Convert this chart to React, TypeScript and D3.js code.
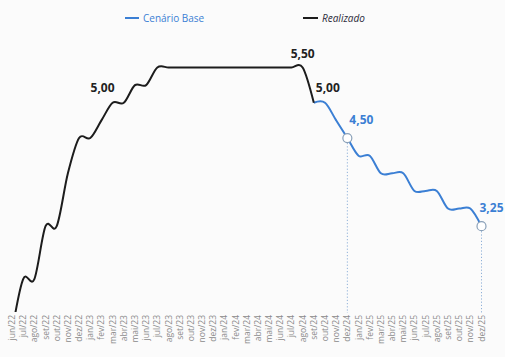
import React from "react";
import * as d3 from "d3";

const months = [
  "jun/22","jul/22","ago/22","set/22","out/22","nov/22","dez/22",
  "jan/23","fev/23","mar/23","abr/23","mai/23","jun/23","jul/23","ago/23","set/23","out/23","nov/23","dez/23",
  "jan/24","fev/24","mar/24","abr/24","mai/24","jun/24","jul/24","ago/24","set/24","out/24","nov/24","dez/24",
  "jan/25","fev/25","mar/25","abr/25","mai/25","jun/25","jul/25","ago/25","set/25","out/25","nov/25","dez/25",
];

// Realizado: jun/22 .. set/24
const realizado = [
  1.75, 2.5, 2.5, 3.25, 3.25, 4.0, 4.5,
  4.5, 4.75, 5.0, 5.0, 5.25, 5.25, 5.5, 5.5, 5.5, 5.5, 5.5, 5.5,
  5.5, 5.5, 5.5, 5.5, 5.5, 5.5, 5.5, 5.5, 5.0,
];

// Cenário Base: set/24 .. dez/25
const cenarioStart = "set/24";
const cenario = [5.0, 5.0, 4.75, 4.5, 4.25, 4.25, 4.0, 4.0, 4.0, 3.75, 3.75, 3.75, 3.5, 3.5, 3.5, 3.25];

const realizadoLabels = [
  { month: "mar/23", text: "5,00", pos: "left" },
  { month: "ago/24", text: "5,50", pos: "center" },
  { month: "set/24", text: "5,00", pos: "right" },
];
const cenarioMarkers = [
  { month: "dez/24", text: "4,50" },
  { month: "dez/25", text: "3,25" },
];

const W = 505;
const H = 357;
const BLUE = "#3b7fd4";
const BLACK = "#1c1c1c";

export default function App() {
  const x = d3.scalePoint<string>().domain(months).range([12, 481.5]);
  const y = d3.scaleLinear().domain([1.75, 5.5]).range([332, 67.5]);
  const plotBottom = 312;

  const realPts: [number, number][] = realizado.map((v, i) => [x(months[i])!, y(v)]);
  const startIdx = months.indexOf(cenarioStart);
  const cenPts: [number, number][] = cenario.map((v, i) => [x(months[startIdx + i])!, y(v)]);

  const line = d3.line().curve(d3.curveCardinal.tension(0));

  const font = "'Open Sans', 'Liberation Sans', sans-serif";

  return (
    <svg
      width={W}
      height={H}
      style={{ position: "absolute", left: 0, top: 0, background: "#fbfbfb" }}
      fontFamily={font}
    >
      <defs>
        <clipPath id="plotClip">
          <rect x={0} y={0} width={W} height={plotBottom} />
        </clipPath>
      </defs>

      {/* legend */}
      <line x1={125} x2={139} y1={18} y2={18} stroke={BLUE} strokeWidth={2} />
      <text x={143} y={21.5} fontSize={10} fill={BLUE}>Cenário Base</text>
      <line x1={303} x2={318} y1={18} y2={18} stroke={BLACK} strokeWidth={2} />
      <text x={322} y={21.5} fontSize={10} fill="#2a2a3a" fontStyle="italic">Realizado</text>

      {/* vertical dotted guides */}
      {cenarioMarkers.map((m) => {
        const xi = x(m.month)!;
        const v = cenario[months.indexOf(m.month) - startIdx];
        return (
          <line key={"g" + m.month} x1={xi} x2={xi} y1={y(v) + 5} y2={plotBottom + 1}
            stroke="#8fb0d8" strokeWidth={1} strokeDasharray="1.2,2" />
        );
      })}

      <g clipPath="url(#plotClip)">
        <path d={line(cenPts)!} fill="none" stroke={BLUE} strokeWidth={2} strokeLinejoin="round" />
        <path d={line(realPts)!} fill="none" stroke={BLACK} strokeWidth={2} strokeLinejoin="round" />
      </g>

      {cenarioMarkers.map((m, i) => {
        const xi = x(m.month)!;
        const v = cenario[months.indexOf(m.month) - startIdx];
        const last = i === cenarioMarkers.length - 1;
        return (
          <g key={"m" + m.month}>
            <circle cx={xi} cy={y(v)} r={4.5} fill="#fff" stroke="#8aa0b8" strokeWidth={1.2} />
            <text x={last ? xi - 2 : xi + 2} y={y(v) - 14} fontSize={12} fontWeight="bold" fill={BLUE}>{m.text}</text>
          </g>
        );
      })}

      {realizadoLabels.map((l) => {
        const xi = x(l.month)!;
        const v = realizado[months.indexOf(l.month)];
        const anchor = l.pos === "left" ? "end" : l.pos === "right" ? "start" : "middle";
        const dx = l.pos === "left" ? 2 : l.pos === "right" ? 2 : 0;
        const dy = l.pos === "center" ? -10 : -11;
        return (
          <text key={"r" + l.month} x={xi + dx} y={y(v) + dy} fontSize={12} fontWeight="bold"
            fill="#222" textAnchor={anchor}>{l.text}</text>
        );
      })}

      {/* x axis labels */}
      {months.map((m) => (
        <text key={m} transform={`translate(${x(m)! + 3},${plotBottom + 3}) rotate(-90)`}
          fontSize={8.5} fill="#8a8a8a" textAnchor="end">{m}</text>
      ))}
    </svg>
  );
}
